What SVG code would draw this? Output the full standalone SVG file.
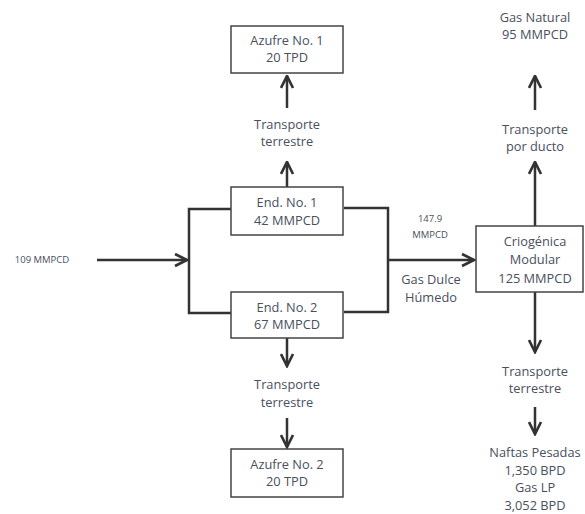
<svg xmlns="http://www.w3.org/2000/svg" width="585" height="514" viewBox="0 0 585 514">
<style>
.box{fill:#fff;stroke:#444;stroke-width:1.5}
.ln{fill:none;stroke:#333;stroke-width:2.5}
.t{font-family:"Open Sans","Liberation Sans",sans-serif;font-size:12.8px;fill:#4a4f5c;text-anchor:middle}
.s{font-size:9.5px}
</style>
<defs>
<marker id="ah" viewBox="0 0 10 10" refX="9" refY="5" markerWidth="6" markerHeight="6" orient="auto" markerUnits="strokeWidth">
<path d="M1,1 L9,5 L1,9" fill="none" stroke="#333" stroke-width="1.8"/>
</marker>
</defs>
<rect width="585" height="514" fill="#fff"/>
<g id="connectors">
<line class="ln" x1="97" y1="260" x2="187" y2="260" marker-end="url(#ah)"/>
<polyline class="ln" points="231,209 189,209 189,313 231,313"/>
<polyline class="ln" points="344,208 388,208 388,312 344,312"/>
<line class="ln" x1="388" y1="260" x2="474" y2="260" marker-end="url(#ah)"/>
<line class="ln" x1="287" y1="187" x2="287" y2="162" marker-end="url(#ah)"/>
<line class="ln" x1="287" y1="108" x2="287" y2="76" marker-end="url(#ah)"/>
<line class="ln" x1="287" y1="338" x2="287" y2="366" marker-end="url(#ah)"/>
<line class="ln" x1="287" y1="418" x2="287" y2="447" marker-end="url(#ah)"/>
<line class="ln" x1="535" y1="226" x2="535" y2="162" marker-end="url(#ah)"/>
<line class="ln" x1="535" y1="110" x2="535" y2="76" marker-end="url(#ah)"/>
<line class="ln" x1="535" y1="292" x2="535" y2="352" marker-end="url(#ah)"/>
<line class="ln" x1="535" y1="407" x2="535" y2="434" marker-end="url(#ah)"/>
</g>
<g id="input"><text class="t s" x="42" y="263">109 MMPCD</text></g>
<g id="azufre1"><rect class="box" x="231" y="26" width="112" height="47"/><text class="t" x="287" y="45">Azufre No. 1</text><text class="t" x="287" y="62">20 TPD</text></g>
<g id="transp1"><text class="t" x="287" y="129">Transporte</text><text class="t" x="287" y="146">terrestre</text></g>
<g id="end1"><rect class="box" x="231" y="187" width="112" height="48"/><text class="t" x="287" y="207">End. No. 1</text><text class="t" x="287" y="225">42 MMPCD</text></g>
<g id="end2"><rect class="box" x="231" y="292" width="112" height="46"/><text class="t" x="287" y="312">End. No. 2</text><text class="t" x="287" y="329">67 MMPCD</text></g>
<g id="transp2"><text class="t" x="287" y="389">Transporte</text><text class="t" x="287" y="407">terrestre</text></g>
<g id="azufre2"><rect class="box" x="231" y="449" width="112" height="48"/><text class="t" x="287" y="469">Azufre No. 2</text><text class="t" x="287" y="486">20 TPD</text></g>
<g id="flow"><text class="t s" x="430" y="222">147.9</text><text class="t s" x="430" y="238">MMPCD</text><text class="t" x="431" y="284">Gas Dulce</text><text class="t" x="431" y="302">Húmedo</text></g>
<g id="crio"><rect class="box" x="476" y="226" width="107" height="66"/><text class="t" x="535" y="246">Criogénica</text><text class="t" x="535" y="264">Modular</text><text class="t" x="535" y="283">125 MMPCD</text></g>
<g id="transp3"><text class="t" x="535" y="134">Transporte</text><text class="t" x="535" y="151">por ducto</text></g>
<g id="gasnat"><text class="t" x="535" y="22">Gas Natural</text><text class="t" x="535" y="39">95 MMPCD</text></g>
<g id="transp4"><text class="t" x="535" y="376">Transporte</text><text class="t" x="535" y="393">terrestre</text></g>
<g id="productos"><text class="t" x="535" y="457">Naftas Pesadas</text><text class="t" x="535" y="475">1,350 BPD</text><text class="t" x="535" y="492">Gas LP</text><text class="t" x="535" y="510">3,052 BPD</text></g>
</svg>
